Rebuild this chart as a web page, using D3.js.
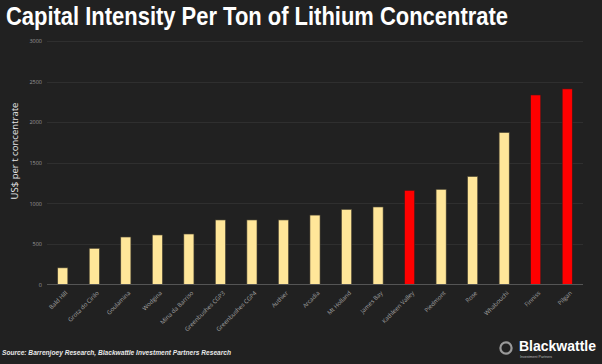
<!DOCTYPE html>
<html><head><meta charset="utf-8">
<script src="https://cdn.jsdelivr.net/npm/d3@7"></script>
<style>html,body{margin:0;padding:0;background:#212121;}svg{display:block;}</style>
</head><body>
<script>
const categories = ["Bald Hill","Grota do Cirilo","Goulamina","Wodgina","Mina da Barriso","Greenbushes CGP3","Greenbushes CGP4","Authier","Arcadia","Mt Holland","James Bay","Kathleen Valley","Piedmont","Rose","Whabouchi","Finniss","Pilgan"];
const values = [205, 445, 585, 610, 622, 795, 795, 795, 855, 925, 955, 1160, 1172, 1330, 1872, 2335, 2410];
const highlighted = ["Kathleen Valley","Finniss","Pilgan"];
const yTicks = [0, 500, 1000, 1500, 2000, 2500, 3000];

const W = 602, H = 364;
const svg = d3.select("body").append("svg").attr("width", W).attr("height", H);
svg.append("rect").attr("width", W).attr("height", H).attr("fill", "#212121");

const x = d3.scaleBand().domain(categories).range([47, 583]).paddingInner(0.68).paddingOuter(0.34);
const y = d3.scaleLinear().domain([0, 3000]).range([284.5, 41]);

// gridlines
svg.append("g").selectAll("line").data(yTicks.filter(d => d > 0)).join("line")
  .attr("x1", 47).attr("x2", 583)
  .attr("y1", d => Math.round(y(d)) + 0.5).attr("y2", d => Math.round(y(d)) + 0.5)
  .attr("stroke", "#2f2f2f").attr("stroke-width", 1);

// y axis labels
const yAxis = d3.axisLeft(y).tickValues(yTicks).tickFormat(d3.format("d")).tickSize(0).tickPadding(0);
const yg = svg.append("g").attr("transform", "translate(42,0)").call(yAxis);
yg.select(".domain").remove();
yg.selectAll("text").attr("fill", "#9a9a9a").attr("font-size", 5.5).attr("font-family", "Open Sans, sans-serif");

// bars
svg.append("g").selectAll("rect").data(categories).join("rect")
  .attr("x", d => x(d))
  .attr("width", x.bandwidth())
  .attr("y", (d, i) => y(values[i]))
  .attr("height", (d, i) => y(0) - y(values[i]))
  .attr("fill", d => highlighted.includes(d) ? "#ff0000" : "#ffe699")
  .attr("stroke", d => highlighted.includes(d) ? "#3a1a1a" : "#4a4433")
  .attr("stroke-width", 0.6);

// x axis
const xAxis = d3.axisBottom(x).tickSize(0).tickPadding(0);
const xg = svg.append("g").attr("transform", `translate(0,${y(0)})`).call(xAxis);
xg.select(".domain").attr("stroke", "#555").attr("stroke-width", 1.2).attr("d", "M47,0H583");
xg.selectAll("text")
  .attr("fill", "#a0a0a0").attr("font-size", 6).attr("font-family", "Open Sans, sans-serif")
  .attr("text-anchor", "end").attr("dy", 0).attr("y", 0)
  .attr("transform", "translate(5,9) rotate(-45)");

// y axis title
svg.append("text").attr("transform", "translate(18,151) rotate(-90)")
  .attr("text-anchor", "middle").attr("fill", "#e6e6e6")
  .attr("font-size", 9.5).attr("font-family", "Open Sans, sans-serif")
  .attr("textLength", 97).attr("lengthAdjust", "spacingAndGlyphs")
  .text("US$ per t concentrate");

// title
svg.append("text").attr("x", 6).attr("y", 25)
  .attr("fill", "#ffffff").attr("font-size", 25).attr("font-weight", "bold")
  .attr("font-family", "Liberation Sans, Arial, sans-serif")
  .attr("textLength", 502).attr("lengthAdjust", "spacingAndGlyphs")
  .text("Capital Intensity Per Ton of Lithium Concentrate");

// source
svg.append("text").attr("x", 2).attr("y", 355)
  .attr("fill", "#e8e8e8").attr("font-size", 7).attr("font-style", "italic").attr("font-weight", "bold")
  .attr("font-family", "Liberation Sans, Arial, sans-serif")
  .attr("textLength", 229).attr("lengthAdjust", "spacingAndGlyphs")
  .text("Source: Barrenjoey Research, Blackwattle Investment Partners Research");

// logo
svg.append("circle").attr("cx", 506).attr("cy", 348).attr("r", 5.6)
  .attr("fill", "none").attr("stroke", "#9a9a9a").attr("stroke-width", 2.2);
svg.append("text").attr("x", 519).attr("y", 351)
  .attr("fill", "#ffffff").attr("font-size", 14.5).attr("font-weight", "bold")
  .attr("font-family", "Liberation Sans, Arial, sans-serif")
  .attr("textLength", 77).attr("lengthAdjust", "spacingAndGlyphs")
  .text("Blackwattle");
svg.append("text").attr("x", 520).attr("y", 357.5)
  .attr("fill", "#bbbbbb").attr("font-size", 3.6)
  .attr("font-family", "Liberation Sans, Arial, sans-serif")
  .text("Investment Partners");
</script>
</body></html>
